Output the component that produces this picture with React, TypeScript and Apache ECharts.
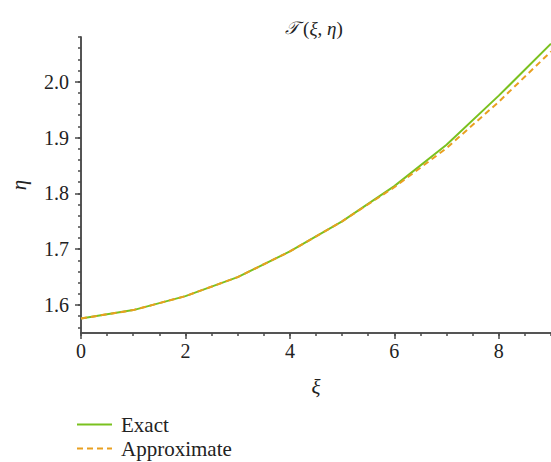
import React, { useEffect, useRef } from "react";
import * as echarts from "echarts";

const xValues = [0, 1, 2, 3, 4, 5, 6, 7, 8, 9];
const exactValues = [1.576, 1.591, 1.616, 1.650, 1.696, 1.750, 1.813, 1.887, 1.975, 2.068];
const approxValues = [1.576, 1.591, 1.616, 1.650, 1.696, 1.750, 1.811, 1.881, 1.964, 2.054];
const xMajorTicks = [0, 2, 4, 6, 8];
const xMinorTicks = [0, 0.5, 1, 1.5, 2, 2.5, 3, 3.5, 4, 4.5, 5, 5.5, 6, 6.5, 7, 7.5, 8, 8.5, 9];
const yMajorTicks = [1.6, 1.7, 1.8, 1.9, 2.0];
const yMinorTicks = [1.56, 1.58, 1.6, 1.62, 1.64, 1.66, 1.68, 1.7, 1.72, 1.74, 1.76, 1.78, 1.8, 1.82, 1.84, 1.86, 1.88, 1.9, 1.92, 1.94, 1.96, 1.98, 2.0, 2.02, 2.04, 2.06, 2.08];
const seriesNames = ["Exact", "Approximate"];

const FONT = "Liberation Serif";
const AXIS_COLOR = "#4a4a4a";
const TEXT_COLOR = "#222";
const GREEN = "#7AC11F";
const ORANGE = "#E9A020";

export default function App() {
  const ref = useRef<HTMLDivElement>(null);
  useEffect(() => {
    if (!ref.current) return;
    const chart = echarts.init(ref.current, undefined, { renderer: "svg" });
    const axisLine = { show: true, lineStyle: { color: AXIS_COLOR, width: 1.5 } };
    const legendBase = {
      orient: "vertical",
      left: 76,
      padding: 0,
      itemWidth: 35,
      itemHeight: 14,
      textStyle: { fontFamily: FONT, fontSize: 21, color: TEXT_COLOR, padding: [0, 0, 0, 4] },
    };
    chart.setOption({
      animation: false,
      backgroundColor: "#fff",
      textStyle: { fontFamily: FONT },
      grid: { left: 77, right: 0, top: 37, bottom: 129, containLabel: false },
      graphic: [
        {
          type: "text",
          x: 314,
          y: 28,
          style: {
            text: "{s|𝒯}{n|\u2009(}{i|ξ}{n|, }{i|η}{n|)}",
            align: "center",
            verticalAlign: "middle",
            fill: TEXT_COLOR,
            rich: {
              s: { fontFamily: FONT, fontSize: 18, fontStyle: "italic", fill: TEXT_COLOR },
              n: { fontFamily: FONT, fontSize: 19, fill: TEXT_COLOR },
              i: { fontFamily: FONT, fontSize: 19, fontStyle: "italic", fill: TEXT_COLOR },
            },
          },
        },
      ],
      legend: [
        { ...legendBase, top: 414, data: [{ name: seriesNames[0], itemStyle: { opacity: 0 } }] },
        { ...legendBase, top: 438, data: [{ name: seriesNames[1], itemStyle: { opacity: 0 } }] },
      ],
      xAxis: [
        {
          type: "value",
          min: 0,
          max: 9,
          name: "ξ",
          nameLocation: "middle",
          nameGap: 43,
          nameTextStyle: { fontFamily: FONT, fontSize: 21, fontStyle: "italic", color: TEXT_COLOR },
          axisLine,
          splitLine: { show: false },
          axisTick: { show: true, customValues: xMajorTicks, length: 6, lineStyle: { color: AXIS_COLOR, width: 1.5 } },
          axisLabel: { customValues: xMajorTicks, fontFamily: FONT, fontSize: 20, color: TEXT_COLOR, margin: 8 },
        },
        {
          type: "value",
          min: 0,
          max: 9,
          position: "bottom",
          axisLine,
          splitLine: { show: false },
          axisTick: { show: true, customValues: xMinorTicks, length: 3, lineStyle: { color: AXIS_COLOR, width: 1.5 } },
          axisLabel: { show: false },
        },
      ],
      yAxis: [
        {
          type: "value",
          min: 1.55,
          max: 2.08,
          name: "η",
          nameLocation: "middle",
          nameRotate: 90,
          nameGap: 52,
          nameTextStyle: { fontFamily: FONT, fontSize: 21, fontStyle: "italic", color: TEXT_COLOR },
          axisLine,
          splitLine: { show: false },
          axisTick: { show: true, customValues: yMajorTicks, length: 6, lineStyle: { color: AXIS_COLOR, width: 1.5 } },
          axisLabel: {
            customValues: yMajorTicks,
            fontFamily: FONT,
            fontSize: 20,
            color: TEXT_COLOR,
            margin: 12,
            formatter: (v: number) => v.toFixed(1),
          },
        },
        {
          type: "value",
          min: 1.55,
          max: 2.08,
          position: "left",
          axisLine,
          splitLine: { show: false },
          axisTick: { show: true, customValues: yMinorTicks, length: 3, lineStyle: { color: AXIS_COLOR, width: 1.5 } },
          axisLabel: { show: false },
        },
      ],
      series: [
        {
          name: seriesNames[0],
          type: "line",
          data: xValues.map((x, i) => [x, exactValues[i]]),
          symbol: "none",
          lineStyle: { color: GREEN, width: 2 },
          itemStyle: { color: GREEN },
          z: 2,
        },
        {
          name: seriesNames[1],
          type: "line",
          data: xValues.map((x, i) => [x, approxValues[i]]),
          symbol: "none",
          lineStyle: { color: ORANGE, width: 2, type: [6, 4] },
          itemStyle: { color: ORANGE },
          z: 3,
        },
      ],
    });
    return () => chart.dispose();
  }, []);
  return <div ref={ref} style={{ position: "fixed", left: 0, top: 0, width: 551, height: 462 }} />;
}
